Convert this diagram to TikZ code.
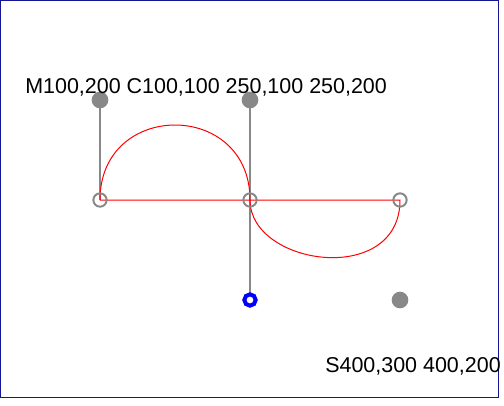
\documentclass[tikz,border=0pt]{standalone}
\usepackage{fontspec}
\setmainfont{Liberation Sans}
\definecolor{ctlgray}{HTML}{888888}
\definecolor{framecol}{RGB}{20,20,150}
\begin{document}
\begin{tikzpicture}[x=0.75pt,y=-0.75pt,
  endpt/.style={circle,draw=ctlgray,line width=1.5pt,minimum size=10pt,inner sep=0pt},
  ctlpt/.style={circle,fill=ctlgray,minimum size=12.5pt,inner sep=0pt},
  autopt/.style={circle,draw=blue,fill=white,line width=3pt,minimum size=8.5pt,inner sep=0pt},
  guide/.style={draw=ctlgray,line width=1.1pt},
  curve/.style={draw=red,line width=0.75pt},
  lbl/.style={inner sep=0pt,anchor=base west,font=\fontsize{16.1pt}{19pt}\selectfont}]
\useasboundingbox (0,0) rectangle (504,405);
\draw[framecol,line width=0.75pt] (0.5,0.5) rectangle (498.5,397);
\coordinate (p0) at (100,200);
\coordinate (c1) at (100,100);
\coordinate (c2) at (250,100);
\coordinate (p1) at (250,200);
\coordinate (c3) at (250,300);
\coordinate (c4) at (400,300);
\coordinate (p2) at (400,200);
\draw[guide] (p0) -- (c1);
\draw[guide] (c2) -- (c3);
\draw[curve] (p0) .. controls (c1) and (c2) .. (p1)
  .. controls (250,266) and (400,287) .. (p2) -- (p0);
\node[endpt] (e0) at (p0) {};
\node[endpt] (e1) at (p1) {};
\node[endpt] (e2) at (p2) {};
\node[ctlpt] (k1) at (c1) {};
\node[ctlpt] (k2) at (c2) {};
\node[ctlpt] (k4) at (c4) {};
\node[autopt] (a3) at (c3) {};
\node[lbl] (t1) at (25,93) {M100,200 C100,100 250,100 250,200};
\node[lbl] (t2) at (325,372) {S400,300 400,200};
\end{tikzpicture}
\end{document}
